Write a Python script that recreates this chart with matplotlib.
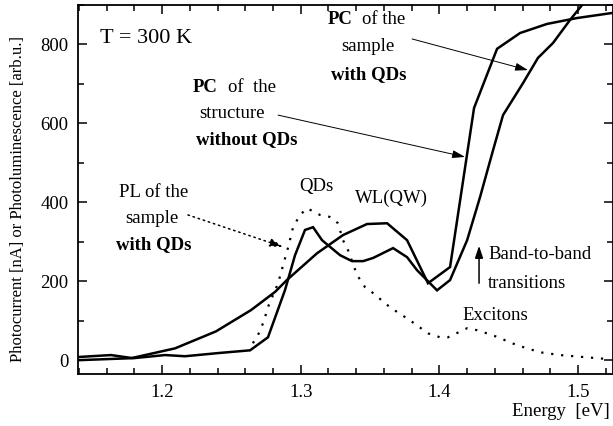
import matplotlib
matplotlib.use("Agg")
import matplotlib.pyplot as plt
from matplotlib.ticker import MultipleLocator

plt.rcParams['font.family'] = ['Liberation Serif', 'DejaVu Serif']

# --- data ---
# PC of the structure without QDs (smooth rise, WL peak)
e_noqd = [1.1394, 1.1776, 1.2094, 1.2389, 1.2642, 1.2815, 1.2900, 1.3118,
          1.3305, 1.3478, 1.3623, 1.3767, 1.3918, 1.4077, 1.4250, 1.4416,
          1.4582, 1.4776, 1.4993, 1.5250]
pc_noqd = [0, 5, 30, 73, 127, 173, 203, 271,
           317, 345, 347, 304, 195, 236, 639, 789,
           829, 852, 867, 880]

# PC of the sample with QDs
e_qd = [1.1394, 1.1632, 1.1791, 1.2022, 1.2166, 1.2404, 1.2635, 1.2764,
        1.2887, 1.2959, 1.3031, 1.3089, 1.3154, 1.3284, 1.3370, 1.3450,
        1.3522, 1.3666, 1.3767, 1.3839, 1.3983, 1.4077, 1.4200, 1.4293,
        1.4387, 1.4459, 1.4603, 1.4711, 1.4820, 1.4942, 1.5029, 1.5100]
pc_qd = [8, 13, 5, 13, 10, 18, 25, 58,
         178, 266, 330, 337, 304, 266, 251, 251,
         259, 284, 261, 228, 177, 203, 304, 413,
         532, 621, 702, 766, 804, 862, 900, 930]

# PL of the sample with QDs (dotted)
e_pl = [1.2655, 1.2690, 1.2730, 1.2770, 1.2837, 1.2873, 1.2910, 1.2945,
        1.2995, 1.3046, 1.3139, 1.3211, 1.3269, 1.3305, 1.3341, 1.3406,
        1.3464, 1.3522, 1.3644, 1.3788, 1.3918, 1.4005, 1.4062, 1.4200,
        1.4272, 1.4387, 1.4560, 1.4726, 1.4870, 1.5036, 1.5209]
pl_qd = [43, 62, 95, 140, 195, 241, 287, 337,
         368, 385, 368, 363, 347, 304, 279, 216,
         185, 170, 134, 101, 68, 58, 58, 81,
         76, 63, 38, 20, 13, 8, 3]

x_major = [1.2, 1.3, 1.4, 1.5]
y_major = [0, 200, 400, 600, 800]

fig = plt.figure(figsize=(6.13, 4.26), dpi=100)
ax = fig.add_axes([78 / 613, 52 / 426, 535 / 613, 369 / 426])

ax.plot(e_noqd, pc_noqd, color='black', lw=1.8, solid_joinstyle='miter')
ax.plot(e_qd, pc_qd, color='black', lw=1.8, solid_joinstyle='miter')
ax.plot(e_pl, pl_qd, color='black', lw=1.6, linestyle=(0, (1, 3.5)))

ax.set_xlim(1.1394, 1.5252)
ax.set_ylim(-35, 900)
ax.set_xticks(x_major)
ax.set_yticks(y_major)
ax.xaxis.set_minor_locator(MultipleLocator(0.02))
ax.yaxis.set_minor_locator(MultipleLocator(100))
ax.tick_params(which='both', direction='in', top=True, right=True,
               labelsize=13.5, width=1.1)
ax.tick_params(which='major', length=6.5, pad=7)
ax.tick_params(which='minor', length=4)
for s in ax.spines.values():
    s.set_linewidth(1.3)

fs = 13.5
ax.text(1.1553, 816, "T = 300 K", fontsize=16, va='center', ha='left')

# PC without QDs label
ax.text(1.2224, 692, "PC", fontsize=fs, fontweight='bold', va='center', ha='left')
ax.text(1.2476, 692, "of  the", fontsize=fs, va='center', ha='left')
ax.text(1.2505, 626, "structure", fontsize=fs, va='center', ha='center')
ax.text(1.2613, 558, "without QDs", fontsize=fs, fontweight='bold', va='center', ha='center')
ax.annotate("", xy=(1.4185, 515), xytext=(1.2837, 621),
            arrowprops=dict(arrowstyle='-|>,head_length=0.55,head_width=0.17',
                            lw=0.7, color='black', mutation_scale=14,
                            shrinkA=0, shrinkB=0))

# PC with QDs label
ax.text(1.3197, 862, "PC", fontsize=fs, fontweight='bold', va='center', ha='left')
ax.text(1.3440, 862, "of the", fontsize=fs, va='center', ha='left')
ax.text(1.3486, 794, "sample", fontsize=fs, va='center', ha='center')
ax.text(1.3490, 723, "with QDs", fontsize=fs, fontweight='bold', va='center', ha='center')
ax.annotate("", xy=(1.4639, 735), xytext=(1.3803, 814),
            arrowprops=dict(arrowstyle='-|>,head_length=0.55,head_width=0.17',
                            lw=0.7, color='black', mutation_scale=14,
                            shrinkA=0, shrinkB=0))

# PL label
ax.text(1.1942, 426, "PL of the", fontsize=fs, va='center', ha='center')
ax.text(1.1930, 360, "sample", fontsize=fs, va='center', ha='center')
ax.text(1.1942, 292, "with QDs", fontsize=fs, fontweight='bold', va='center', ha='center')
ax.annotate("", xy=(1.2873, 287), xytext=(1.2187, 368),
            arrowprops=dict(arrowstyle='-|>,head_length=0.55,head_width=0.17',
                            lw=1.1, color='black', mutation_scale=14,
                            linestyle=(0, (1, 2.5)), shrinkA=0, shrinkB=0))

ax.text(1.3111, 439, "QDs", fontsize=fs, va='center', ha='center')
ax.text(1.3651, 411, "WL(QW)", fontsize=fs, va='center', ha='center')
ax.text(1.4401, 114, "Excitons", fontsize=fs, va='center', ha='center')

ax.annotate("", xy=(1.4286, 290), xytext=(1.4286, 195),
            arrowprops=dict(arrowstyle='-|>,head_length=0.6,head_width=0.2',
                            lw=1.1, color='black', mutation_scale=12,
                            shrinkA=0, shrinkB=0))
ax.text(1.4351, 269, "Band-to-band", fontsize=fs, va='center', ha='left')
ax.text(1.4351, 195, "transitions", fontsize=fs, va='center', ha='left')

fig.text(610 / 613, 14 / 426, "Energy  [eV]", fontsize=fs, ha='right', va='center')
fig.text(18 / 613, (426 - 199) / 426, "Photocurrent [nA] or Photoluminescence [arb.u.]",
         fontsize=12, rotation=90, ha='center', va='center')

fig.savefig("out.png", dpi=100)
